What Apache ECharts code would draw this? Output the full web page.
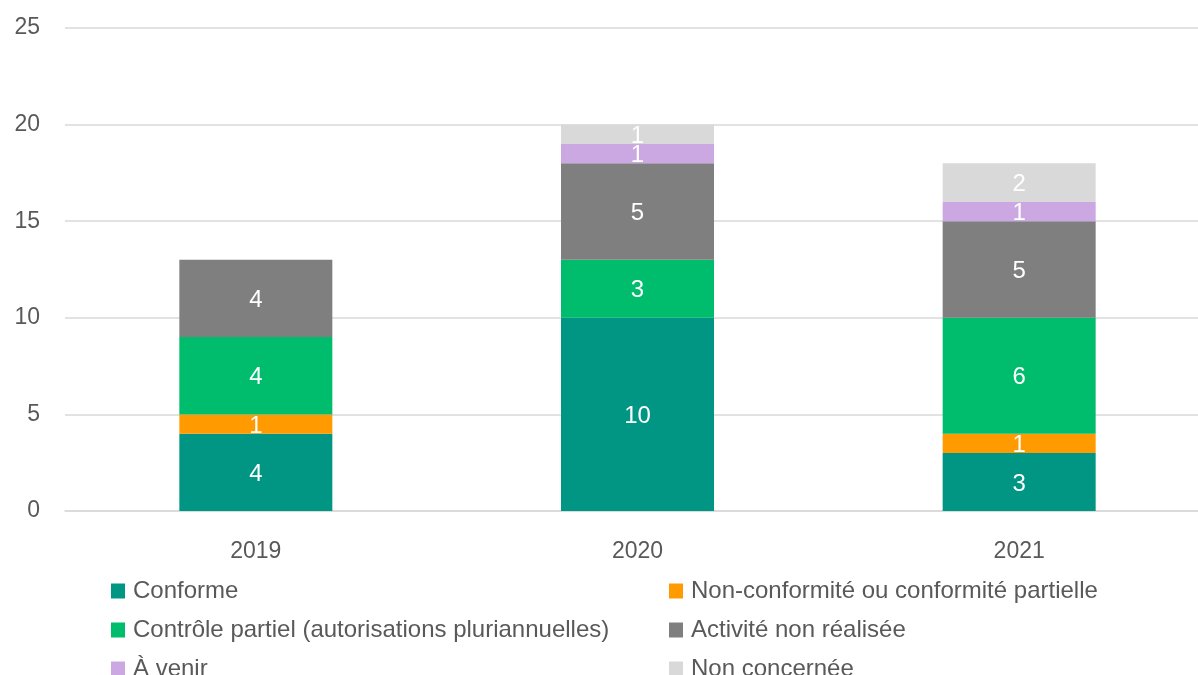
<!DOCTYPE html>
<html><head><meta charset="utf-8">
<script src="https://cdn.jsdelivr.net/npm/echarts@6/dist/echarts.min.js"></script>
<style>html,body{margin:0;padding:0;background:#fff}#c{width:1198px;height:675px}</style>
</head><body><div id="c"></div>
<script>
const categories = ['2019', '2020', '2021'];
const seriesNames = ['Conforme', 'Non-conformité ou conformité partielle', 'Contrôle partiel (autorisations pluriannuelles)', 'Activité non réalisée', 'À venir', 'Non concernée'];
const conforme = [4, 10, 3];
const nonConformite = [1, null, 1];
const controlePartiel = [4, 3, 6];
const activiteNonRealisee = [4, 5, 5];
const aVenir = [null, 1, 1];
const nonConcernee = [null, 1, 2];
const yTicks = [0, 5, 10, 15, 20, 25];
const colors = ['#009683', '#FF9A00', '#00BD6D', '#7F7F7F', '#CBA8E2', '#D9D9D9'];
const values = [conforme, nonConformite, controlePartiel, activiteNonRealisee, aVenir, nonConcernee];
const FONT = 'Liberation Sans, sans-serif';

// legend slots: [left, top] for each series
const legendLefts = [106, 664, 106, 664, 106, 664];
const legendTops = [574, 574, 613, 613, 652, 652];

const chart = echarts.init(document.getElementById('c'));
chart.setOption({
  animation: false,
  textStyle: { fontFamily: FONT },
  grid: { left: 65, top: 28, width: 1145, height: 483, outerBoundsMode: 'none' },
  xAxis: {
    type: 'category', data: categories,
    axisLine: { lineStyle: { color: '#D9D9D9', width: 1.5 } },
    axisTick: { show: false },
    axisLabel: { color: '#595959', fontSize: 23, fontFamily: FONT, margin: 29 }
  },
  yAxis: {
    type: 'value', min: yTicks[0], max: yTicks[yTicks.length - 1], interval: 5,
    axisLine: { show: false }, axisTick: { show: false },
    splitLine: { lineStyle: { color: '#D9D9D9', width: 1.5 } },
    axisLabel: { color: '#595959', fontSize: 23, fontFamily: FONT, margin: 25, align: 'right' }
  },
  legend: seriesNames.map((n, i) => ({
    left: legendLefts[i], top: legendTops[i], itemWidth: 14, itemHeight: 15, itemGap: 0,
    icon: 'rect', data: [n],
    textStyle: { color: '#595959', fontSize: 24, fontFamily: FONT, padding: [0, 0, 0, 3] }
  })),
  series: seriesNames.map((n, i) => ({
    name: n, type: 'bar', stack: 'total', data: values[i], barWidth: 153,
    itemStyle: { color: colors[i] },
    label: { show: true, position: 'inside', color: '#fff', fontSize: 24, fontFamily: FONT, offset: [0, 2] }
  }))
});
</script></body></html>
